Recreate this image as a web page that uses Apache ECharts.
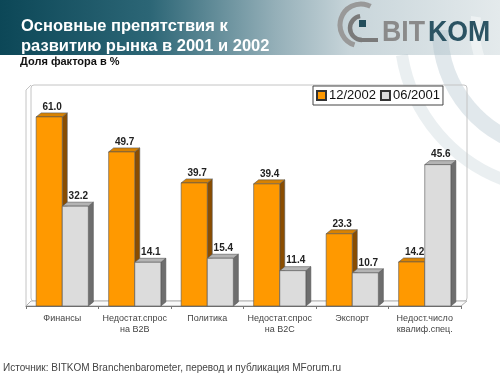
<!DOCTYPE html>
<html><head><meta charset="utf-8">
<script src="https://cdn.jsdelivr.net/npm/echarts@6/dist/echarts.min.js"></script>
<style>html,body{margin:0;padding:0;background:#fff}#c{width:500px;height:376px}</style>
</head><body><div id="c"></div>
<script>
const categories = ['Финансы', 'Недостат.спрос\nна B2B', 'Политика', 'Недостат.спрос\nна B2C', 'Экспорт', 'Недост.число\nквалиф.спец.'];
const series2002 = [61.0, 49.7, 39.7, 39.4, 23.3, 14.2];
const series2001 = [32.2, 14.1, 15.4, 11.4, 10.7, 45.6];
const seriesNames = ['12/2002', '06/2001'];
const titleLines = ['Основные препятствия к', 'развитию рынка в 2001 и 2002'];
const subtitle = 'Доля фактора в %';
const sourceText = 'Источник: BITKOM Branchenbarometer, перевод и публикация MForum.ru';

const FONT = '"Liberation Sans", Arial, sans-serif';
const palettes = [
  {front: '#ff9900', top: '#d98200', side: '#8a4d00'},
  {front: '#dcdcdc', top: '#b4b4b4', side: '#6e6e6e'}
];
const DX = 5, DY = 4;

function makeRender(si) {
  return function (params, api) {
    const idx = api.value(0), val = api.value(1);
    const p = api.coord([idx, val]);
    const base = api.coord([idx, 0]);
    const bandW = api.size([1, 0])[0];
    const bw = bandW * 0.36;
    const x0 = si === 0 ? p[0] - bw : p[0];
    const x1 = x0 + bw;
    const yT = p[1], yB = base[1];
    const pal = palettes[si];
    const edge = {stroke: '#555', lineWidth: 0.6};
    return {
      type: 'group',
      children: [
        {type: 'polygon', shape: {points: [[x1, yB], [x1 + DX, yB - DY], [x1 + DX, yT - DY], [x1, yT]]},
          style: Object.assign({fill: pal.side}, edge)},
        {type: 'polygon', shape: {points: [[x0, yT], [x0 + DX, yT - DY], [x1 + DX, yT - DY], [x1, yT]]},
          style: Object.assign({fill: pal.top}, edge)},
        {type: 'rect', shape: {x: x0, y: yT, width: bw, height: yB - yT},
          style: Object.assign({fill: pal.front}, edge)},
        {type: 'text', x: (x0 + x1) / 2 + 3, y: yT - DY - 1,
          style: {text: val.toFixed(1), fill: '#222', font: 'bold 10px ' + FONT,
            align: 'center', verticalAlign: 'bottom'}}
      ]
    };
  };
}

const chart = echarts.init(document.getElementById('c'), null, {renderer: 'canvas'});

const wallColor = '#c4c4c4';
const graphics = [
  {type: 'rect', z: -10, shape: {x: 0, y: 0, width: 500, height: 55},
    style: {fill: new echarts.graphic.LinearGradient(0, 0, 1, 0, [
      {offset: 0, color: '#0c4757'}, {offset: 0.3, color: '#2c6676'},
      {offset: 0.55, color: '#94afb8'}, {offset: 0.7, color: '#c8d5da'}, {offset: 1, color: '#e4eaec'}])}},
  // watermark arcs
  {type: 'arc', z: -9, shape: {cx: 560, cy: 30, r: 120, startAngle: Math.PI * 0.55, endAngle: Math.PI * 1.0},
    style: {stroke: 'rgba(170,190,200,0.35)', lineWidth: 16, fill: null}},
  {type: 'arc', z: -9, shape: {cx: 560, cy: 30, r: 160, startAngle: Math.PI * 0.6, endAngle: Math.PI * 0.95},
    style: {stroke: 'rgba(170,190,200,0.25)', lineWidth: 12, fill: null}},
  {type: 'arc', z: -9, shape: {cx: 560, cy: 30, r: 85, startAngle: Math.PI * 0.5, endAngle: Math.PI * 1.05},
    style: {stroke: 'rgba(255,255,255,0.45)', lineWidth: 10, fill: null}},
  // title
  {type: 'text', left: 21, top: 18, style: {text: titleLines[0], fill: '#ffffff', font: 'bold 16.5px ' + FONT}},
  {type: 'text', left: 21, top: 38, style: {text: titleLines[1], fill: '#ffffff', font: 'bold 16.5px ' + FONT}},
  {type: 'text', left: 20, top: 56, style: {text: subtitle, fill: '#111', font: 'bold 11px ' + FONT}},
  // logo
  {type: 'arc', shape: {cx: 361, cy: 25, r: 21, startAngle: Math.PI * 0.6, endAngle: Math.PI * 1.65},
    style: {stroke: '#999999', lineWidth: 5, fill: null}},
  {type: 'arc', shape: {cx: 362, cy: 28, r: 12, startAngle: Math.PI * 0.5, endAngle: Math.PI * 1.45},
    style: {stroke: '#7a7a7a', lineWidth: 4.5, fill: null}},
  {type: 'line', shape: {x1: 361, y1: 40, x2: 378, y2: 40}, style: {stroke: '#7a7a7a', lineWidth: 4}},
  {type: 'rect', shape: {x: 359, y: 20, width: 7, height: 7}, style: {fill: '#244e5c'}},
  {type: 'group', x: 382, y: 18, scaleX: 0.92, children: [
    {type: 'text', x: 0, y: 0, style: {text: 'BIT', fill: '#8a8a8a', font: 'bold 29px ' + FONT, verticalAlign: 'top'}},
    {type: 'text', x: 50, y: 0, style: {text: 'KOM', fill: '#2b5363', font: 'bold 29px ' + FONT, verticalAlign: 'top'}}
  ]},
  // walls
  {type: 'rect', z: -5, shape: {x: 31, y: 85, width: 436, height: 216, r: 3}, style: {fill: null, stroke: wallColor, lineWidth: 1}},
  {type: 'polyline', z: -5, shape: {points: [[31, 85], [26, 90], [26, 306]]}, style: {stroke: wallColor, lineWidth: 1, fill: null}},
  {type: 'polygon', z: -5, shape: {points: [[26, 306], [461, 306], [467, 301], [31, 301]]}, style: {stroke: '#b0b0b0', lineWidth: 1, fill: '#fafafa'}},
  // source
  {type: 'text', left: 3, top: 363, style: {text: sourceText, fill: '#444', font: '10px ' + FONT}}
];

chart.setOption({
  animation: false,
  backgroundColor: '#ffffff',
  graphic: graphics,
  legend: {
    left: 313, top: 86, data: seriesNames, icon: 'rect', itemWidth: 9, itemHeight: 9, itemGap: 4,
    padding: [3, 3], backgroundColor: '#ffffff', borderColor: '#444', borderWidth: 1, borderRadius: 0,
    textStyle: {fontSize: 13, color: '#111', fontFamily: FONT, padding: [0, 0, 0, -2]}
  },
  grid: {left: 26, right: 39, top: 89, bottom: 70},
  xAxis: {
    type: 'category', data: categories,
    axisLine: {lineStyle: {color: '#777', width: 1}},
    axisTick: {show: true, length: 3, lineStyle: {color: '#777'}},
    axisLabel: {fontSize: 9, color: '#444', lineHeight: 11, margin: 7, interval: 0, fontFamily: FONT}
  },
  yAxis: {type: 'value', min: 0, max: 70, show: false, splitLine: {show: false}},
  series: [
    {name: seriesNames[0], type: 'custom', renderItem: makeRender(0),
      itemStyle: {color: palettes[0].front, borderColor: '#333', borderWidth: 1},
      encode: {x: 0, y: 1}, data: series2002.map((v, i) => [i, v]), z: 3},
    {name: seriesNames[1], type: 'custom', renderItem: makeRender(1),
      itemStyle: {color: palettes[1].front, borderColor: '#333', borderWidth: 1},
      encode: {x: 0, y: 1}, data: series2001.map((v, i) => [i, v]), z: 4}
  ]
});
</script></body></html>
